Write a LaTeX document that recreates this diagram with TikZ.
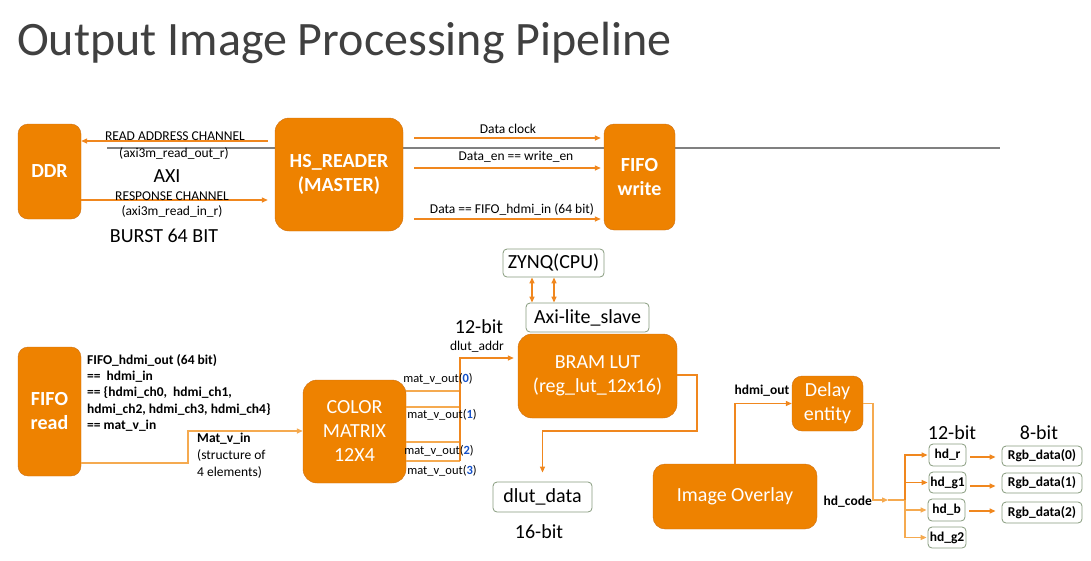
\documentclass[tikz,border=0pt]{standalone}
\usepackage{fontspec}
\setmainfont{Carlito}
\usepackage{tikz}
\usetikzlibrary{arrows.meta}

\definecolor{boxorange}{RGB}{238,130,0}
\definecolor{boxedge}{RGB}{205,112,20}
\definecolor{wireorange}{RGB}{240,135,30}
\definecolor{wirelight}{RGB}{245,170,80}
\definecolor{boxline}{RGB}{135,155,125}
\definecolor{busgray}{RGB}{128,128,128}
\definecolor{titlegray}{RGB}{64,64,64}
\definecolor{digitblue}{RGB}{20,80,200}

\begin{document}
\begin{tikzpicture}[x=1pt,y=-1pt,
    >={Triangle[length=6pt,width=5pt]},
    obox/.style={draw=boxedge, fill=boxorange, rounded corners=10pt, text=white,
      align=center, inner sep=0pt, font=\fontsize{20}{24}\selectfont},
    wbox/.style={draw=boxline, line width=0.8pt, fill=white, rounded corners=4pt, inner sep=0pt,
      font=\fontsize{20}{24}\selectfont},
    sbox/.style={wbox, font=\bfseries\fontsize{13.5}{16}\selectfont},
    lbl/.style={inner sep=0pt, font=\fontsize{13.5}{16}\selectfont},
    big/.style={inner sep=0pt, font=\fontsize{20}{24}\selectfont},
    wire/.style={draw=wireorange, line width=1.3pt},
    wirelt/.style={draw=wirelight, line width=1.3pt}]

    \useasboundingbox (0,0) rectangle (1091,560);

    % Title
    \node[anchor=base west, inner sep=0pt, text=titlegray, font=\fontsize{48}{56}\selectfont]
      (title) at (17,55) {Output Image Processing Pipeline};

    % Bus line behind the top row
    \draw[busgray, line width=1.2pt] (107,148) -- (1000,148);

    % Draw the boxes of the top row
    \node[obox, font=\bfseries\fontsize{20}{24}\selectfont, minimum width=63, minimum height=95] (ddr) at (49.5,171.5) {DDR};
    \node[obox, rounded corners=14pt, font=\bfseries\fontsize{20}{24}\selectfont, minimum width=128, minimum height=113] (hs) at (339,174.5) {HS\_READER\\(MASTER)};
    \node[obox, font=\bfseries\fontsize{20}{24}\selectfont, minimum width=71, minimum height=106] (fw) at (639.5,177) {FIFO\\write};

    % AXI channels
    \draw[wire,->,shorten <=7pt] (hs.west |- 0,141) -- (ddr.east |- 0,141);
    \draw[wire,->,shorten >=7pt] (ddr.east |- 0,200) -- (hs.west |- 0,200);
    \node[lbl] (ra) at (175,136) {READ ADDRESS CHANNEL};
    \node[lbl] (raout) at (174,153) {(axi3m\_read\_out\_r)};
    \node[big] (axi) at (167,176) {AXI};
    \node[lbl] (rc) at (172,196) {RESPONSE CHANNEL};
    \node[lbl] (rcin) at (172,211) {(axi3m\_read\_in\_r)};
    \node[big] (burst) at (164,236) {BURST 64 BIT};

    % Reader to FIFO write
    \draw[wire,->,shorten <=11pt,shorten >=3pt] (hs.east |- 0,138) -- (fw.west |- 0,138);
    \draw[wire,->,shorten <=11pt,shorten >=3pt] (hs.east |- 0,168) -- (fw.west |- 0,168);
    \draw[wire,->,shorten <=11pt,shorten >=3pt] (hs.east |- 0,219) -- (fw.west |- 0,219);
    \node[lbl] (clk) at (508,129) {Data clock};
    \node[lbl] (en) at (516,157) {Data\_en == write\_en};
    \node[lbl] (dat) at (512,209) {Data == FIFO\_hdmi\_in (64 bit)};

    % Draw the boxes of the bottom row
    \node[obox, font=\bfseries\fontsize{20}{24}\selectfont, minimum width=63, minimum height=129] (fr) at (49.5,411.5) {FIFO\\read};
    \node[obox, rounded corners=14pt, minimum width=103, minimum height=103] (cm) at (354.5,431.5) {COLOR\\MATRIX\\12X4};
    \node[wbox, minimum width=101, minimum height=28] (zynq) at (553.5,263) {ZYNQ(CPU)};
    \node[wbox, minimum width=123, minimum height=29] (axil) at (587.5,317.5) {Axi-lite\_slave};
    \node[obox, rounded corners=14pt, minimum width=159, minimum height=84] (bram) at (597.5,376) {BRAM LUT\\(reg\_lut\_12x16)};
    \node[wbox, minimum width=99, minimum height=30] (dd) at (542.5,497) {dlut\_data};
    \node[obox, minimum width=71, minimum height=55] (dl) at (827.5,403.5) {Delay\\entity};
    \node[obox, rounded corners=12pt, minimum width=164, minimum height=65] (io) at (735,496.5) {Image Overlay};

    % FIFO read to color matrix
    \coordinate (matin) at (188,431);
    \draw[wirelt,->] (fr.east |- 0,463) -| (matin) -- (cm.west |- matin);
    \node[lbl, font=\bfseries\fontsize{13.5}{16.3}\selectfont, anchor=north west, align=left] (hdmi) at (87,354)
      {FIFO\_hdmi\_out (64 bit)\\==\ \ hdmi\_in\\== \{hdmi\_ch0,\ \ hdmi\_ch1,\\hdmi\_ch2, hdmi\_ch3, hdmi\_ch4\}\\== mat\_v\_in};
    \node[lbl, font=\fontsize{13.5}{17}\selectfont, anchor=north west, align=left] (matv) at (197,433)
      {\textbf{Mat\_v\_in}\\(structure of\\4 elements)};

    % Color matrix outputs to the LUT address
    \coordinate (addr) at (460,358);
    \foreach \y in {391,407,442,461}
      \draw[wirelt] (cm.east |- 0,\y) -- (addr |- 0,\y);
    \draw[wire,->,shorten >=4pt] (addr |- 0,461) -- (addr) -- (bram.west |- addr);
    \node[lbl, font=\fontsize{12.5}{15}\selectfont] (mv0) at (438,379) {mat\_v\_out(\textcolor{digitblue}{\textbf{0}})};
    \node[lbl, font=\fontsize{12.5}{15}\selectfont] (mv1) at (442,415) {mat\_v\_out(\textcolor{digitblue}{\textbf{1}})};
    \node[lbl, font=\fontsize{12.5}{15}\selectfont] (mv2) at (439,451) {mat\_v\_out(\textcolor{digitblue}{\textbf{2}})};
    \node[lbl, font=\fontsize{12.5}{15}\selectfont] (mv3) at (442,471) {mat\_v\_out(\textcolor{digitblue}{\textbf{3}})};
    \node[big] (bit12a) at (479,327) {12-bit};
    \node[lbl] (dla) at (477,347) {dlut\_addr};

    % CPU access to the LUT
    \draw[wire,<->] (zynq.south -| 532,0) -- (axil.north -| 532,0);
    \draw[wire,<->] (zynq.south -| 554,0) -- (axil.north -| 554,0);

    % LUT data out
    \draw[wire,->,shorten >=9pt] (bram.east |- 0,375) -| (697,431) -| (dd.north);
    \node[big] (bit16) at (539,532) {16-bit};

    % Overlay and delay
    \draw[wire,->] (io.north) |- (dl.west);
    \node[lbl, font=\bfseries\fontsize{13.5}{16}\selectfont] (ho) at (762,391) {hdmi\_out};
    \coordinate (code) at (888,500);
    \coordinate (split) at (905,500);
    \draw[wirelt,->] (dl.east) -| (873,500) -- (code);
    \draw[wirelt] (code) -- (split);
    \node[lbl, font=\bfseries\fontsize{13.5}{16}\selectfont, anchor=east] (hc) at (872,502) {hd\_code};

    % Split into the colour channels
    \node[sbox, minimum width=37, minimum height=22] (hdr) at (947.5,455) {hd\_r};
    \node[sbox, minimum width=37, minimum height=21] (hdg1) at (947.5,482.5) {hd\_g1};
    \node[sbox, minimum width=37, minimum height=22] (hdb) at (946.5,510) {hd\_b};
    \node[sbox, minimum width=38, minimum height=21] (hdg2) at (947,537.5) {hd\_g2};
    \draw[wire,->,shorten >=1pt] (split) |- (hdr.west);
    \draw[wire,->,shorten >=1pt] (split) |- (hdg1.west);
    \draw[wirelt,->,shorten >=1pt] (split) |- (hdb.west);
    \draw[wirelt,->,shorten >=1pt] (split) |- (hdg2.west);
    \node[big] (bit12b) at (952,433) {12-bit};

    % Output data
    \node[sbox, minimum width=80, minimum height=20] (rgb0) at (1042,456) {Rgb\_data(0)};
    \node[sbox, minimum width=80, minimum height=20] (rgb1) at (1042,483) {Rgb\_data(1)};
    \node[sbox, minimum width=80, minimum height=21] (rgb2) at (1042,512.5) {Rgb\_data(2)};
    \draw[wire,->,shorten <=4pt,shorten >=6pt] (hdr.east |- 0,457) -- (rgb0.west |- 0,457);
    \draw[wire,->,shorten <=4pt,shorten >=6pt] (hdg1.east |- 0,486) -- (rgb1.west |- 0,486);
    \draw[wire,->,shorten <=4pt,shorten >=6pt] (hdb.east |- 0,511) -- (rgb2.west |- 0,511);
    \node[big] (bit8) at (1039,433) {8-bit};
\end{tikzpicture}
\end{document}
